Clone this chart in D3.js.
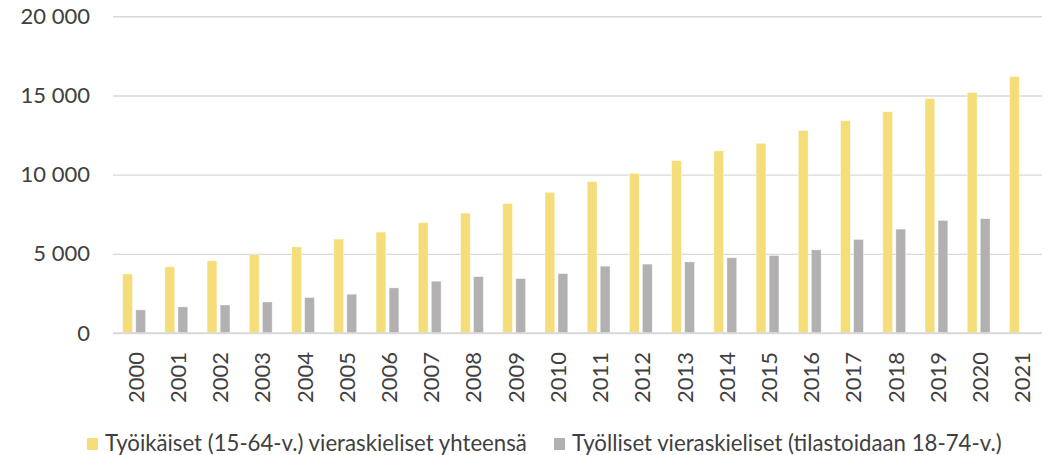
<!DOCTYPE html>
<html>
<head>
<meta charset="utf-8">
<script src="https://cdn.jsdelivr.net/npm/d3@7"></script>
<style>
    body { margin: 0; background: #fff; }
    text { font-family: Lato, "Open Sans", sans-serif; fill: #404040; }
</style>
</head>
<body>
<svg id="main-svg" width="1050" height="455"></svg>
<script>
// chart data
let YEARS = ['2000', '2001', '2002', '2003', '2004', '2005', '2006', '2007', '2008', '2009', '2010',
    '2011', '2012', '2013', '2014', '2015', '2016', '2017', '2018', '2019', '2020', '2021'];

let WORKING_AGE = [3730, 4180, 4560, 4940, 5440, 5930, 6370, 6960, 7570, 8180, 8880,
    9560, 10080, 10890, 11500, 11980, 12790, 13400, 13970, 14810, 15190, 16200];

let EMPLOYED = [1460, 1650, 1770, 1960, 2240, 2450, 2850, 3270, 3560, 3440, 3750,
    4220, 4350, 4490, 4750, 4890, 5250, 5910, 6560, 7110, 7220, null];

let SERIES_NAMES = ['Työikäiset (15-64-v.) vieraskieliset yhteensä', 'Työlliset vieraskieliset (tilastoidaan 18-74-v.)'];
let Y_TICKS = [0, 5000, 10000, 15000, 20000];

let COLORS = ['#F5DD7A', '#B2B0B0'];
let GRID_COLOR = '#D9D9D9';

// plot area inside the svg
let LEFT = 113, RIGHT = 1042, TOP = 16.3, BOTTOM = 333;

let svg = d3.select('#main-svg');

let x0 = d3.scaleBand().domain(YEARS).range([LEFT, RIGHT]).padding(0);
let x1 = d3.scaleBand().domain([0, 1])
    .range([x0.bandwidth() * 0.23, x0.bandwidth() * 0.77])
    .paddingInner(0.25);
let y = d3.scaleLinear().domain([0, 20000]).range([BOTTOM, TOP]);

// number format with a space as thousands separator
let fmt = d3.formatLocale({ decimal: ',', thousands: '\u00a0', grouping: [3], currency: ['', ''] }).format(',d');

// gridlines and y labels
let yAxis = svg.append('g')
    .attr('transform', `translate(${LEFT},0)`)
    .call(d3.axisLeft(y).tickValues(Y_TICKS).tickSize(-(RIGHT - LEFT)).tickPadding(23).tickFormat(fmt));
yAxis.select('.domain').remove();
yAxis.selectAll('line').attr('stroke', GRID_COLOR).attr('stroke-width', 1.4);
yAxis.selectAll('text')
    .attr('font-size', 22)
    .attr('fill', '#404040')
    .attr('font-family', 'Lato, sans-serif');

// build per-year rows for the two series
let rows = YEARS.map((year, i) => ({ year: year, values: [WORKING_AGE[i], EMPLOYED[i]] }));

let groups = svg.append('g').selectAll('g').data(rows).enter().append('g')
    .attr('transform', d => `translate(${x0(d.year)},0)`);

groups.selectAll('rect')
    .data(d => d.values.map((v, k) => ({ k: k, v: v })).filter(d => d.v != null))
    .enter().append('rect')
    .attr('x', d => x1(d.k))
    .attr('width', x1.bandwidth())
    .attr('y', d => y(d.v))
    .attr('height', d => y(0) - y(d.v))
    .attr('fill', d => COLORS[d.k])
    .attr('stroke', '#fff')
    .attr('stroke-opacity', 0.5)
    .attr('stroke-width', 0.75);

// redraw the zero line over the bar bottoms
svg.append('line')
    .attr('x1', LEFT).attr('x2', RIGHT)
    .attr('y1', y(0)).attr('y2', y(0))
    .attr('stroke', GRID_COLOR).attr('stroke-width', 1.4);

// rotated year labels
let xAxis = svg.append('g')
    .attr('transform', `translate(0,${BOTTOM})`)
    .call(d3.axisBottom(x0).tickSize(0).tickPadding(0));
xAxis.select('.domain').remove();
xAxis.selectAll('text')
    .attr('font-size', 22)
    .attr('fill', '#404040')
    .attr('font-family', 'Lato, sans-serif')
    .attr('text-anchor', 'end')
    .attr('dy', null)
    .attr('dominant-baseline', 'central')
    .attr('transform', 'translate(1,19) rotate(-90)')
    .attr('y', 0);

// legend
let LEGEND = [
    { x: 87, textX: 105, width: 422 },
    { x: 554, textX: 572, width: 430 }
];
let legend = svg.append('g').selectAll('g').data(SERIES_NAMES).enter().append('g');
legend.append('rect')
    .attr('x', (d, i) => LEGEND[i].x)
    .attr('y', 438)
    .attr('width', 11)
    .attr('height', 12)
    .attr('fill', (d, i) => COLORS[i]);
legend.append('text')
    .attr('x', (d, i) => LEGEND[i].textX)
    .attr('y', 451)
    .attr('font-size', 21)
    .text(d => d)
    .each(function (d, i) {
        // shrink or grow the font so the label covers the same width as in the picture
        let w = this.getComputedTextLength();
        d3.select(this).attr('font-size', 21 * LEGEND[i].width / w);
    });
</script>
</body>
</html>
